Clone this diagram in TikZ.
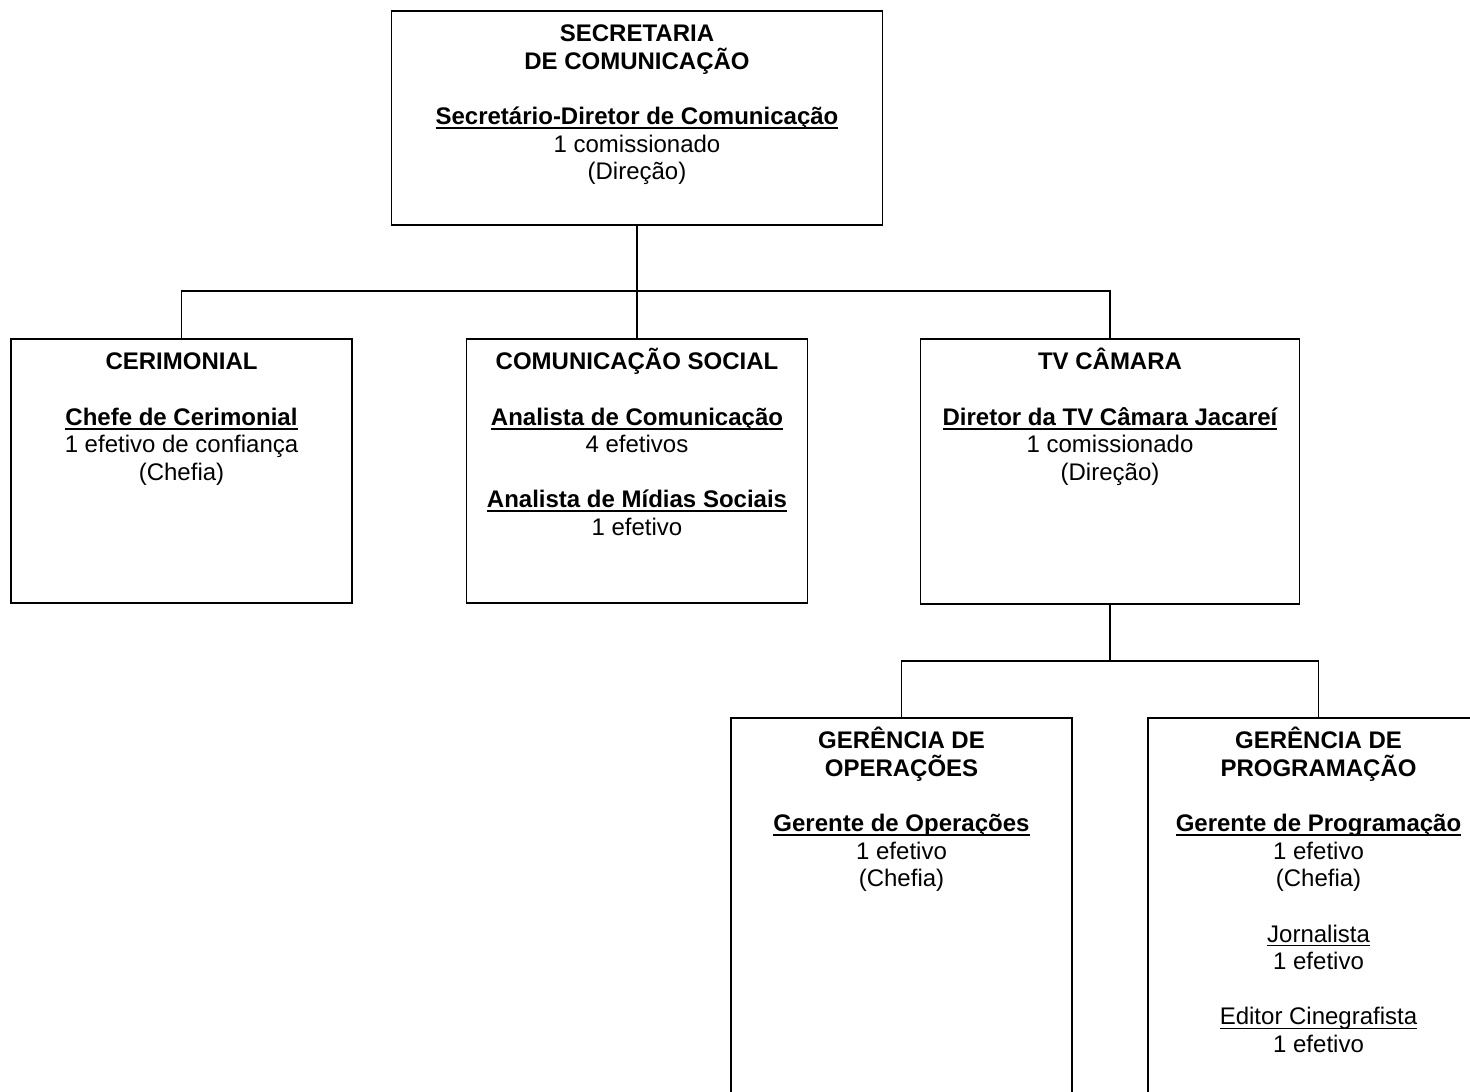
\documentclass[tikz,border=0pt]{standalone}
\usepackage{fontspec}
\setmainfont{Liberation Sans}
\newcommand\ulb[1]{\setbox0\hbox{\bfseries #1}\rlap{\rule[-2.2pt]{\wd0}{0.95pt}}\box0}
\newcommand\ulr[1]{\setbox0\hbox{#1}\rlap{\rule[-2.0pt]{\wd0}{0.6pt}}\box0}
\newcommand\fst{\rule{0pt}{12pt}}
\tikzset{
  orgbox/.style={draw, line width=0.8pt, rectangle, inner sep=0pt, outer sep=0pt},
  orgtxt/.style={anchor=north, inner sep=0pt, align=center, font=\fontsize{12pt}{13.8pt}\selectfont},
  orgline/.style={line width=0.8pt}
}
\begin{document}
\begin{tikzpicture}[x=0.5pt, y=-0.5pt]
\useasboundingbox (0,0) rectangle (1470,1091);
\clip (0,0) rectangle (1470,1091);
\fill[white] (0,0) rectangle (1470,1091);
% boxes
\node[orgbox, minimum width=245.5pt, minimum height=107pt] (top) at (637,118) {};
\node[orgbox, minimum width=170.5pt, minimum height=132pt] (cer) at (181.5,471) {};
\node[orgbox, minimum width=170.5pt, minimum height=132pt] (com) at (637,471) {};
\node[orgbox, minimum width=189.6pt, minimum height=132.5pt] (tv) at (1110,471.5) {};
\node[orgbox, minimum width=170.5pt, minimum height=216pt] (go) at (901.5,934) {};
\node[orgbox, minimum width=170.5pt, minimum height=216pt] (gp) at (1318.5,934) {};
% texts
\node[orgtxt] (ttop) at ([yshift=-3.25pt]top.north) {\fst\textbf{SECRETARIA}\\\textbf{DE COMUNICAÇÃO}\\[13.8pt]\ulb{Secretário-Diretor de Comunicação}\\1 comissionado\\(Direção)};
\node[orgtxt] (tcer) at ([yshift=-3.25pt]cer.north) {\fst\textbf{CERIMONIAL}\\[13.8pt]\ulb{Chefe de Cerimonial}\\1 efetivo de confiança\\(Chefia)};
\node[orgtxt] (tcom) at ([yshift=-3.25pt]com.north) {\fst\textbf{COMUNICAÇÃO SOCIAL}\\[13.8pt]\ulb{Analista de Comunicação}\\4 efetivos\\[13.8pt]\ulb{Analista de Mídias Sociais}\\1 efetivo};
\node[orgtxt] (ttv) at ([yshift=-3.25pt]tv.north) {\fst\textbf{TV CÂMARA}\\[13.8pt]\ulb{Diretor da TV Câmara Jacareí}\\1 comissionado\\(Direção)};
\node[orgtxt] (tgo) at ([yshift=-3.25pt]go.north) {\fst\textbf{GERÊNCIA DE}\\\textbf{OPERAÇÕES}\\[13.8pt]\ulb{Gerente de Operações}\\1 efetivo\\(Chefia)};
\node[orgtxt] (tgp) at ([yshift=-3.25pt]gp.north) {\fst\textbf{GERÊNCIA DE}\\\textbf{PROGRAMAÇÃO}\\[13.8pt]\ulb{Gerente de Programação}\\1 efetivo\\(Chefia)\\[13.8pt]\ulr{Jornalista}\\1 efetivo\\[13.8pt]\ulr{Editor Cinegrafista}\\1 efetivo};
% connectors
\coordinate (bus1) at (637,291);
\coordinate (bus2) at (1110,661);
\draw[orgline] (top.south) -- (com.north);
\draw[orgline] (cer.north) |- (bus1) -| (tv.north);
\draw[orgline] (tv.south) -- (bus2);
\draw[orgline] (go.north) |- (bus2) -| (gp.north);
\end{tikzpicture}
\end{document}
